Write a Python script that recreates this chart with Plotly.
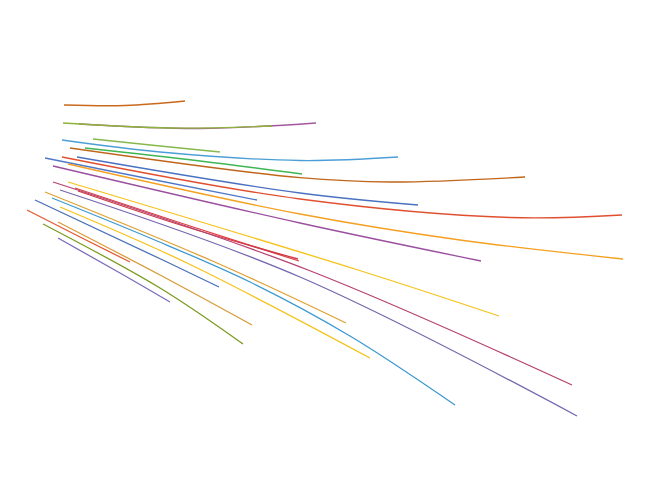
import plotly.graph_objects as go

# Each curve: x values, y values (y downward), colour
xs = [
    [64, 125, 185],
    [79, 200, 316],
    [63, 170, 272],
    [93, 160, 220],
    [62, 160, 300, 398],
    [85, 200, 302],
    [70, 300, 390, 525],
    [77, 300, 418],
    [62, 300, 510, 622],
    [45, 150, 257],
    [53, 300, 481],
    [68, 300, 460, 623],
    [68, 358, 499],
    [75, 190, 299],
    [78, 190, 298],
    [53, 308, 572],
    [60, 300, 577],
    [45, 217, 346],
    [35, 167, 219],
    [52, 150, 250, 350, 455],
    [60, 187, 370],
    [27, 80, 130],
    [58, 160, 252],
    [43, 160, 243],
    [58, 120, 170],
]
ys = [
    [105, 105.5, 101],
    [124, 128.5, 123],
    [123, 128, 126],
    [139, 146, 152],
    [140, 152, 160.5, 157],
    [148, 161, 174],
    [148, 177.7, 182, 177],
    [157, 193, 205],
    [157, 199, 217.5, 215],
    [158, 179, 200],
    [166, 223, 261],
    [164, 214, 240, 259],
    [182, 270, 316],
    [188, 226, 261],
    [191, 228, 259],
    [182, 270, 385],
    [190, 277, 416],
    [192, 263, 323],
    [200, 262, 287],
    [198, 238, 282, 336, 405],
    [207, 263, 358],
    [210, 237, 262],
    [222, 275, 325],
    [224, 288, 344],
    [238, 273, 302],
]
colors = [
    "#c8691c", "#a4579e", "#8db33a", "#86b84b", "#4c9fd6",
    "#3fb553", "#c0661c", "#4a72c0", "#e05030", "#5078c8",
    "#9b4f9f", "#f4a021", "#f6c21a", "#e04040", "#d03848",
    "#b54370", "#7468b0", "#e0a030", "#4a70b8", "#3c9ad0",
    "#f6c21a", "#e25a32", "#d99a38", "#7a9a1e", "#7a6cb8",
]

fig = go.Figure()
for x, y, c in zip(xs, ys, colors):
    fig.add_trace(go.Scatter(x=x, y=y, mode="lines",
                             line=dict(color=c, width=1.3, shape="spline", smoothing=1.0),
                             hoverinfo="skip", showlegend=False))

# page body has an 8px margin, so the axis ranges are offset to compensate
fig.update_layout(
    width=669, height=495,
    margin=dict(l=0, r=0, t=0, b=0),
    paper_bgcolor="white", plot_bgcolor="white",
    xaxis=dict(range=[8, 677], visible=False, fixedrange=True),
    yaxis=dict(range=[503, 8], visible=False, fixedrange=True),
)
fig.write_html("out.html")
